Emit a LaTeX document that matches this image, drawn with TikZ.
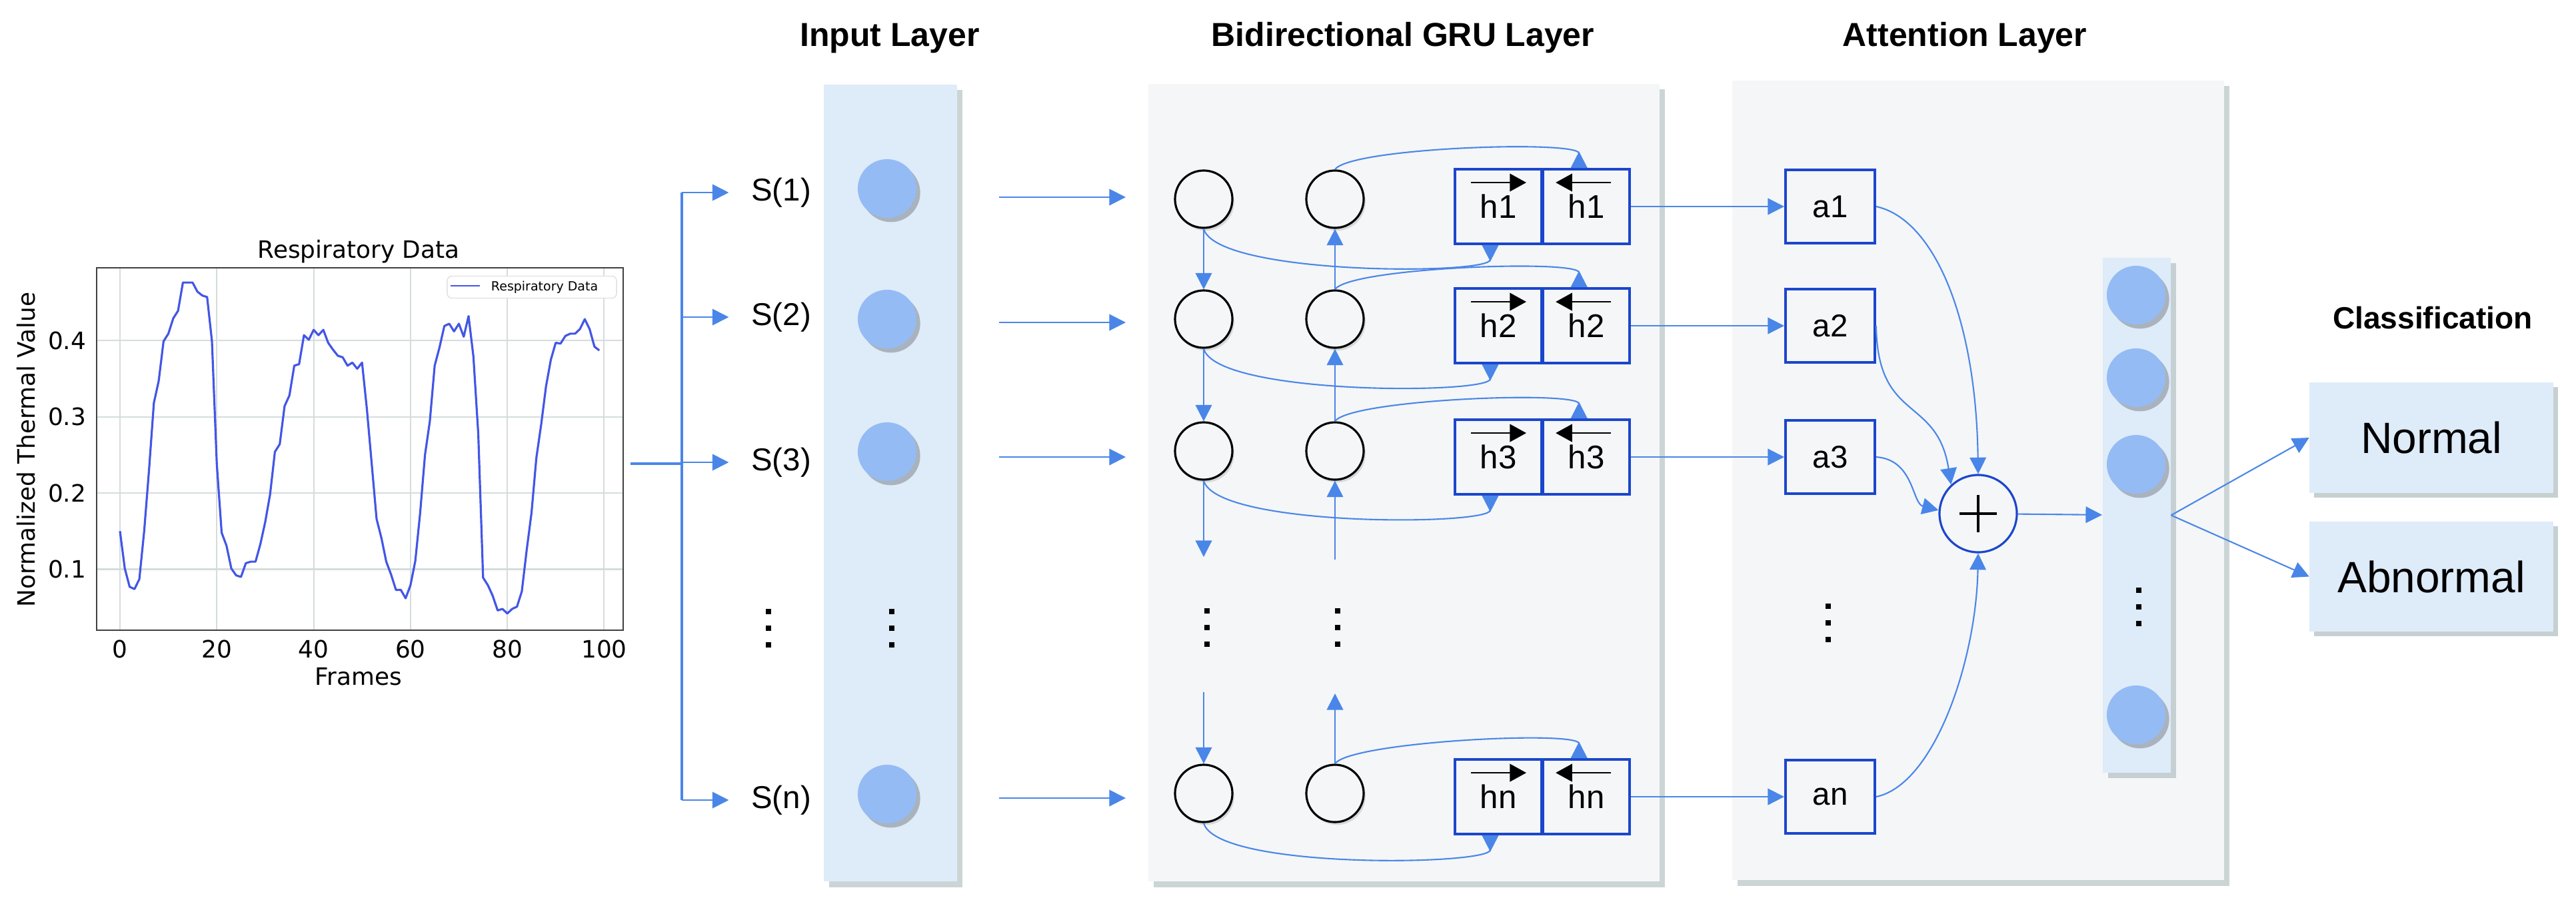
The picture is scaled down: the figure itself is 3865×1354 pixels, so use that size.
\documentclass[tikz,border=0pt]{standalone}
\usepackage{fontspec}
\setmainfont{Liberation Sans}
\newfontfamily\plotfont{DejaVu Sans}
\usetikzlibrary{arrows.meta, positioning, shadows, calc}

\definecolor{panelblue}{HTML}{DEEBF9}
\definecolor{panelgray}{HTML}{F4F6F8}
\definecolor{dotblue}{HTML}{94BBF4}
\definecolor{boxblue}{HTML}{1B46CC}
\definecolor{linkblue}{HTML}{4A86E8}
\definecolor{curveblue}{HTML}{4356E6}
\definecolor{shadowgray}{HTML}{8FA3A5}
\definecolor{gridgray}{HTML}{D5DCDC}

\begin{document}
\begin{tikzpicture}[x=0.01cm, y=0.01cm,
    link/.style={linkblue, line width=0.6pt, -{Triangle[length=7pt, width=7pt]}},
    hlink/.style={linkblue, line width=0.6pt, -{Triangle[length=7pt, width=7pt, reversed]}},
    trunk/.style={linkblue, line width=0.9pt},
    title/.style={anchor=base, font=\bfseries\fontsize{14.2}{17}\selectfont},
    panel/.style={fill=#1, inner sep=0pt, anchor=north west,
      drop shadow={shadow xshift=2.3pt, shadow yshift=-2.3pt, opacity=0.45, fill=shadowgray}},
    incirc/.style={circle, fill=dotblue, minimum size=0.88cm, inner sep=0pt,
      drop shadow={shadow xshift=1.6pt, shadow yshift=-1.8pt, opacity=0.3, fill=black!80}},
    grucirc/.style={circle, draw=black, line width=0.9pt, fill=panelgray, minimum size=0.86cm, inner sep=0pt,
      drop shadow={shadow xshift=0.8pt, shadow yshift=-1.2pt, opacity=0.12, fill=black}},
    cell/.style={draw=boxblue, line width=1.1pt, minimum width=1.3cm, minimum height=1.12cm,
      inner sep=0pt, font=\fontsize{14}{16}\selectfont},
    abox/.style={draw=boxblue, line width=1.1pt, minimum width=1.34cm, minimum height=1.1cm,
      inner sep=0pt, font=\fontsize{13.5}{16}\selectfont},
    slabel/.style={inner xsep=0.33cm, inner ysep=0pt, font=\fontsize{13.5}{16}\selectfont},
    outbox/.style={fill=panelblue, minimum width=3.65cm, minimum height=1.65cm, inner sep=0pt,
      font=\fontsize{18.7}{22}\selectfont,
      drop shadow={shadow xshift=2pt, shadow yshift=-2pt, opacity=0.5, fill=shadowgray}},
    dir/.style={line width=0.45pt, -{Triangle[length=7pt, width=7.6pt]}},
    plottext/.style={font=\plotfont\fontsize{10.2}{12}\selectfont, inner sep=0pt},
    gridline/.style={gridgray, line width=0.6pt},
    vdots/.pic={\foreach \d in {-25,0,25} \fill (-4,\d-4) rectangle ++(8,8);}
  ]
  \path[use as bounding box, fill=white] (0,0) rectangle (3865,-1354);

  % respiratory signal
  \begin{scope}[shift={(180,-969)}, x=0.0726cm, y=11.44cm]
    \foreach \t in {0,20,...,100} {
      \draw[gridline] (\t,0.02) -- (\t,0.4956);
      \node[plottext] at (\t,-0.005) {\t};
    }
    \foreach \v in {0.1,0.2,0.3,0.4} {
      \draw[gridline] (-4.82,\v) -- (104,\v);
      \node[plottext, anchor=east] at (-6.9,\v) {\v};
    }
    \draw[curveblue, line width=0.9pt, line join=round] plot coordinates {
      (0,.150) (1,.101) (2,.077) (3,.074) (4,.087) (5,.150) (6,.230) (7,.318) (8,.347) (9,.399)
      (10,.409) (11,.429) (12,.439) (13,.476) (14,.476) (15,.476) (16,.464) (17,.459) (18,.457) (19,.399)
      (20,.238) (21,.148) (22,.131) (23,.101) (24,.092) (25,.090) (26,.108) (27,.110) (28,.110) (29,.133)
      (30,.162) (31,.198) (32,.254) (33,.264) (34,.314) (35,.328) (36,.367) (37,.369) (38,.407) (39,.401)
      (40,.414) (41,.407) (42,.414) (43,.397) (44,.388) (45,.380) (46,.378) (47,.367) (48,.371) (49,.363)
      (50,.371) (51,.310) (52,.238) (53,.166) (54,.141) (55,.110) (56,.093) (57,.073) (58,.073) (59,.062)
      (60,.079) (61,.111) (62,.174) (63,.250) (64,.294) (65,.367) (66,.391) (67,.419) (68,.422) (69,.412)
      (70,.422) (71,.405) (72,.432) (73,.379) (74,.278) (75,.089) (76,.079) (77,.065) (78,.046) (79,.048)
      (80,.042) (81,.048) (82,.051) (83,.071) (84,.125) (85,.174) (86,.246) (87,.290) (88,.340) (89,.375)
      (90,.397) (91,.396) (92,.406) (93,.409) (94,.409) (95,.415) (96,.428) (97,.415) (98,.392) (99,.387)};
  \end{scope}
  \node[draw=black!75, line width=0.6pt, minimum width=7.9cm, minimum height=5.44cm] (plotbox) at (540,-674) {};
  \node[plottext] (ptitle) at (538,-378) {Respiratory Data};
  \node[plottext] (pxlabel) at (538,-1016) {Frames};
  \node[plottext, rotate=90] (pylabel) at (39,-675) {Normalized Thermal Value};
  \node[draw=black!12, fill=white, rounded corners=2pt, minimum width=2.54cm, minimum height=0.33cm, inner sep=0pt] (legend) at (798,-431) {};
  \draw[curveblue, line width=0.8pt] ([xshift=0.06cm, yshift=0.02cm]legend.west) -- +(44,0);
  \node[anchor=west, inner sep=0pt, font=\plotfont\fontsize{5.4}{6}\selectfont] (legendtext) at ([xshift=0.66cm]legend.west) {Respiratory Data};

  % layer panels
  \node[panel=panelblue, minimum width=2cm, minimum height=11.96cm] (inpanel) at (1235,-126) {};
  \node[panel=panelgray, minimum width=7.67cm, minimum height=11.97cm] (grupanel) at (1722,-125) {};
  \node[panel=panelgray, minimum width=7.38cm, minimum height=12cm] (attpanel) at (2598,-120) {};
  \node[panel=panelblue, minimum width=1.02cm, minimum height=7.73cm] (strip) at (3154,-386) {};

  \node[title] (intitle) at (1335,-69) {Input Layer};
  \node[title] (grutitle) at (2105,-69) {Bidirectional GRU Layer};
  \node[title] (atttitle) at (2948,-69) {Attention Layer};

  \coordinate (plotout) at (946,-696);
  \coordinate (brin) at (1023,-696);
  \draw[trunk] (plotout) -- (brin);

  % one row per time step
  \foreach \i/\ys/\yc/\yg/\yh/\ya in {1/289/283/299/310/296, 2/476/479/479/489/484, 3/694/678/677/686/686, n/1201/1192/1191/1196/1198} {
    \coordinate (br\i) at (1023,-\ys);
    \node[slabel] (s\i) at (1172,-\ys) {S(\i)};
    \draw[link] (br\i) -- (s\i);
    \node[incirc] (in\i) at (1331,-\yc) {};
    \coordinate (ia\i) at (1499,-\ya);
    \coordinate (ib\i) at (1689,-\ya);
    \draw[link] (ia\i) -- (ib\i);
    \node[grucirc] (ga\i) at (1806,-\yg) {};
    \node[grucirc] (gb\i) at (2003,-\yg) {};
    \node[cell] (hf\i) at (2248,-\yh) {h\i};
    \node[cell, right=-0.5pt of hf\i] (hb\i) {h\i};
    \draw[dir] ($(hf\i.north)+(-41,-22)$) -- +(83,0);
    \draw[dir] ($(hb\i.north)+(37,-22)$) -- +(-83,0);
    \draw[hlink] (ga\i.south) .. controls +(20,-70) and +(0,-45) .. ($(hf\i.south)+(-12,0)$);
    \draw[hlink] (gb\i.north) .. controls +(23,33) and +(0,42) .. ($(hb\i.north)+(-11,0)$);
    \node[abox] (a\i) at (2746,-\yh) {a\i};
    \draw[link] (hb\i) -- (a\i);
  }
  \draw[trunk] (br1) -- (brn);

  \pic at (1153,-943) {vdots};
  \pic at (1338,-943) {vdots};
  \pic at (1811,-942) {vdots};
  \pic at (2007,-942) {vdots};
  \pic at (2743,-935) {vdots};
  \pic at (3209,-911) {vdots};

  % forward and backward chains
  \coordinate (gadown) at (1806,-836);
  \coordinate (gaup) at (1806,-1039);
  \coordinate (gbfrom) at (2003,-840);
  \coordinate (gbto) at (2003,-1041);
  \draw[link] (ga1) -- (ga2);
  \draw[link] (ga2) -- (ga3);
  \draw[link] (ga3) -- (gadown);
  \draw[link] (gaup) -- (gan);
  \draw[link] (gb2) -- (gb1);
  \draw[link] (gb3) -- (gb2);
  \draw[link] (gbfrom) -- (gb3);
  \draw[link] (gbn) -- (gbto);

  % attention sum
  \node[circle, draw=boxblue, line width=0.9pt, fill=panelgray, minimum size=1.16cm] (plus) at (2968,-771) {};
  \draw[line width=1.4pt] ($(plus.center)+(-28,0)$) -- +(56,0) ($(plus.center)+(0,-28)$) -- +(0,56);
  \draw[link] (a1.east) .. controls +(87,-19) and +(-3,233) .. (plus.north);
  \draw[link] (a2.east) .. controls +(2,-146) and +(-21,134) .. (plus.133);
  \draw[link] (a3.east) .. controls +(57,-4) and +(-40,10) .. (plus.175);
  \draw[link] (an.east) .. controls +(87,18) and +(-3,-162) .. (plus.south);

  \foreach \j/\y in {1/443, 2/567, 3/697, 4/1073}
    \node[incirc] (o\j) at (3205,-\y) {};
  \draw[link] (plus) -- (strip);

  % classification
  \node[outbox] (normal) at (3648,-657) {Normal};
  \node[outbox, below=0.42cm of normal] (abnormal) {Abnormal};
  \node[title, font=\bfseries\fontsize{13.1}{16}\selectfont] (clstitle) at (3650,-493) {Classification};
  \draw[link] (strip.east) -- (normal.west);
  \draw[link] (strip.east) -- (abnormal.west);
\end{tikzpicture}
\end{document}
